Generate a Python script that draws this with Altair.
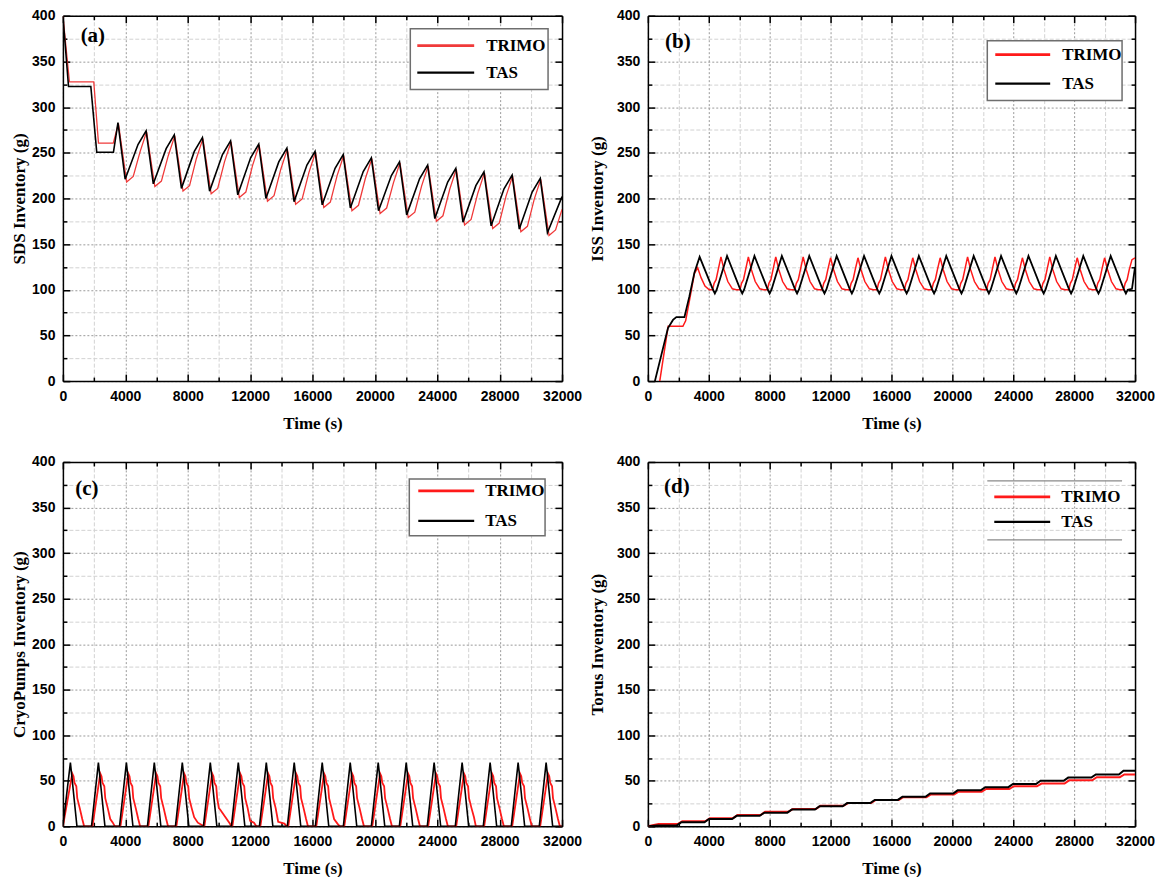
import altair as alt
import pandas as pd

# ---------------- data (time s, inventory g) ----------------
TIME_TICKS = list(range(0, 32001, 2000))
INV_TICKS = list(range(0, 401, 25))
SERIES = ["TRIMO", "TAS"]

SDS_TAS = [
    [0, 400], [360, 322.5], [1790, 322.5], [2170, 250.5], [3240, 250.5], [3530, 283],
    [3990, 221], [4815, 259], [5335, 274],
    [5795, 216], [6620, 254.5], [7140, 269.5],
    [7600, 211], [8425, 251.5], [8945, 266.5],
    [9405, 208], [10230, 248], [10750, 263],
    [11210, 204], [12035, 244.5], [12555, 259.5],
    [13015, 200], [13840, 240], [14360, 255],
    [14820, 196.5], [15645, 236.5], [16165, 251.5],
    [16625, 193], [17450, 233], [17970, 248],
    [18430, 189.5], [19255, 229.5], [19775, 244.5],
    [20235, 186.5], [21060, 225], [21580, 240],
    [22040, 182], [22865, 221.5], [23385, 236.5],
    [23845, 178], [24670, 218], [25190, 233],
    [25650, 174], [26475, 214], [26995, 229],
    [27455, 170], [28280, 210.5], [28800, 225.5],
    [29260, 166.5], [30085, 207], [30605, 222],
    [31065, 162.5], [32000, 202],
]
SDS_TRIMO = [
    [0, 400], [420, 327.5], [1980, 327.5], [2280, 260.5], [3230, 260.5], [3560, 282],
    [4090, 218], [4510, 224], [4945, 251], [5365, 273],
    [5895, 213], [6315, 219], [6750, 246.5], [7170, 268.5],
    [7700, 208], [8120, 214], [8555, 243.5], [8975, 265.5],
    [9505, 205], [9925, 211], [10360, 240], [10780, 262],
    [11310, 201], [11730, 207], [12165, 236.5], [12585, 258.5],
    [13115, 197], [13535, 203], [13970, 232], [14390, 254],
    [14920, 193.5], [15340, 199.5], [15775, 228.5], [16195, 250.5],
    [16725, 190], [17145, 196], [17580, 225], [18000, 247],
    [18530, 186.5], [18950, 192.5], [19385, 221.5], [19805, 243.5],
    [20335, 183.5], [20755, 189.5], [21190, 217], [21610, 239],
    [22140, 179], [22560, 185], [22995, 213.5], [23415, 235.5],
    [23945, 175], [24365, 181], [24800, 210], [25220, 232],
    [25750, 171], [26170, 177], [26605, 206], [27025, 228],
    [27555, 167], [27975, 173], [28410, 202.5], [28830, 224.5],
    [29360, 163.5], [29780, 169.5], [30215, 199], [30635, 221],
    [31165, 159.5], [31585, 165.5], [32000, 188],
]

ISS_TAS = [
    [460, 0], [1320, 58], [1650, 67], [1870, 70], [2400, 70], [2730, 93], [3060, 119], [3400, 136],
    [4280, 100], [4400, 96], [4520, 100], [5200, 137],
    [6080, 100], [6200, 96], [6320, 100], [7000, 137],
    [7880, 100], [8000, 96], [8120, 100], [8800, 137],
    [9680, 100], [9800, 96], [9920, 100], [10600, 137],
    [11480, 100], [11600, 96], [11720, 100], [12400, 137],
    [13280, 100], [13400, 96], [13520, 100], [14200, 137],
    [15080, 100], [15200, 96], [15320, 100], [16000, 137],
    [16880, 100], [17000, 96], [17120, 100], [17800, 137],
    [18680, 100], [18800, 96], [18920, 100], [19600, 137],
    [20480, 100], [20600, 96], [20720, 100], [21400, 137],
    [22280, 100], [22400, 96], [22520, 100], [23200, 137],
    [24080, 100], [24200, 96], [24320, 100], [25000, 137],
    [25880, 100], [26000, 96], [26120, 100], [26800, 137],
    [27680, 100], [27800, 96], [27920, 100], [28600, 137],
    [29480, 100], [29600, 96], [29720, 100], [30400, 137],
    [31280, 100], [31400, 96], [31520, 100], [31800, 101], [32000, 125],
]
ISS_TRIMO = [
    [780, 0], [1330, 60], [2300, 60], [2480, 66], [2730, 88], [3060, 118], [3270, 124],
    [3500, 113], [3750, 104], [4030, 100], [4250, 100], [4350, 107], [4480, 111], [4620, 122], [4800, 136],
    [5000, 122], [5250, 109], [5550, 101], [5800, 100], [6050, 100], [6150, 107], [6280, 111], [6420, 122], [6600, 136],
    [6800, 122], [7050, 109], [7350, 101], [7600, 100], [7850, 100], [7950, 107], [8080, 111], [8220, 122], [8400, 136],
    [8600, 122], [8850, 109], [9150, 101], [9400, 100], [9650, 100], [9750, 107], [9880, 111], [10020, 122], [10200, 136],
    [10400, 122], [10650, 109], [10950, 101], [11200, 100], [11450, 100], [11550, 107], [11680, 111], [11820, 122], [12000, 135],
    [12200, 122], [12450, 109], [12750, 101], [13000, 100], [13250, 100], [13350, 107], [13480, 111], [13620, 122], [13800, 135],
    [14000, 122], [14250, 109], [14550, 101], [14800, 100], [15050, 100], [15150, 107], [15280, 111], [15420, 122], [15600, 136],
    [15800, 122], [16050, 109], [16350, 101], [16600, 100], [16850, 100], [16950, 107], [17080, 111], [17220, 122], [17400, 135],
    [17600, 122], [17850, 109], [18150, 101], [18400, 100], [18650, 100], [18750, 107], [18880, 111], [19020, 122], [19200, 135],
    [19400, 122], [19650, 109], [19950, 101], [20200, 100], [20450, 100], [20550, 107], [20680, 111], [20820, 122], [21000, 136],
    [21200, 122], [21450, 109], [21750, 101], [22000, 100], [22250, 100], [22350, 107], [22480, 111], [22620, 122], [22800, 136],
    [23000, 122], [23250, 109], [23550, 101], [23800, 100], [24050, 100], [24150, 107], [24280, 111], [24420, 122], [24600, 135],
    [24800, 122], [25050, 109], [25350, 101], [25600, 100], [25850, 100], [25950, 107], [26080, 111], [26220, 122], [26400, 136],
    [26600, 122], [26850, 109], [27150, 101], [27400, 100], [27650, 100], [27750, 107], [27880, 111], [28020, 122], [28200, 135],
    [28400, 122], [28650, 109], [28950, 101], [29200, 100], [29450, 100], [29550, 107], [29680, 111], [29820, 122], [30000, 135],
    [30200, 122], [30450, 109], [30750, 101], [31000, 100], [31250, 100], [31350, 107], [31480, 111], [31620, 122], [31800, 133], [32000, 135],
]

CRYO_TAS = [
    [0, 0], [480, 70], [530, 62], [900, 0],
    [1835, 0], [2275, 70], [2325, 62], [2695, 0],
    [3630, 0], [4070, 70], [4120, 62], [4490, 0],
    [5420, 0], [5860, 70], [5910, 62], [6280, 0],
    [7215, 0], [7655, 70], [7705, 62], [8075, 0],
    [9010, 0], [9450, 70], [9500, 62], [9870, 0],
    [10805, 0], [11245, 70], [11295, 62], [11665, 0],
    [12600, 0], [13040, 70], [13090, 62], [13460, 0],
    [14390, 0], [14830, 70], [14880, 62], [15250, 0],
    [16185, 0], [16625, 70], [16675, 62], [17045, 0],
    [17980, 0], [18420, 70], [18470, 62], [18840, 0],
    [19775, 0], [20215, 70], [20265, 62], [20635, 0],
    [21570, 0], [22010, 70], [22060, 62], [22430, 0],
    [23360, 0], [23800, 70], [23850, 62], [24220, 0],
    [25155, 0], [25595, 70], [25645, 62], [26015, 0],
    [26950, 0], [27390, 70], [27440, 62], [27810, 0],
    [28745, 0], [29185, 70], [29235, 62], [29605, 0],
    [30540, 0], [30980, 70], [31030, 62], [31400, 0], [32000, 0],
]
CRYO_TRIMO = [
    [0, 0], [600, 58], [680, 55], [740, 48], [860, 44], [920, 31], [1080, 20], [1240, 8], [1360, 0],
    [1895, 0], [2395, 58], [2475, 55], [2535, 48], [2655, 44], [2715, 31], [2875, 20], [3035, 8], [3200, 4], [3330, 0],
    [3690, 0], [4190, 58], [4270, 55], [4330, 48], [4450, 44], [4510, 31], [4670, 20], [4830, 8], [4950, 0],
    [5480, 0], [5980, 58], [6060, 55], [6120, 48], [6240, 44], [6300, 31], [6460, 20], [6620, 8], [6740, 0],
    [7275, 0], [7775, 58], [7855, 55], [7915, 48], [8035, 44], [8095, 31], [8255, 20], [8415, 10], [8650, 4], [9050, 0],
    [9070, 0], [9570, 58], [9650, 55], [9710, 48], [9830, 44], [9890, 31], [10000, 20], [10100, 18], [10700, 3], [10800, 0],
    [10865, 0], [11365, 58], [11445, 55], [11505, 48], [11625, 44], [11685, 31], [11845, 20], [12005, 6], [12250, 4], [12400, 0],
    [12660, 0], [13160, 58], [13240, 55], [13300, 48], [13420, 44], [13480, 31], [13640, 20], [13800, 5], [14200, 3], [14350, 0],
    [14450, 0], [14950, 58], [15030, 55], [15090, 48], [15210, 44], [15270, 31], [15430, 20], [15590, 8], [15710, 0],
    [16245, 0], [16745, 58], [16825, 55], [16885, 48], [17005, 44], [17065, 31], [17225, 20], [17385, 8], [17600, 3], [17750, 0],
    [18040, 0], [18540, 58], [18620, 55], [18680, 48], [18800, 44], [18860, 31], [19020, 20], [19180, 8], [19300, 0],
    [19835, 0], [20335, 58], [20415, 55], [20475, 48], [20595, 44], [20655, 31], [20815, 20], [20975, 8], [21095, 0],
    [21630, 0], [22130, 58], [22210, 55], [22270, 48], [22390, 44], [22450, 31], [22610, 20], [22770, 8], [22890, 0],
    [23420, 0], [23920, 58], [24000, 55], [24060, 48], [24180, 44], [24240, 31], [24400, 20], [24560, 8], [24680, 0],
    [25215, 0], [25715, 58], [25795, 55], [25855, 48], [25975, 44], [26035, 31], [26195, 20], [26355, 10], [26475, 0],
    [27010, 0], [27510, 58], [27590, 55], [27650, 48], [27770, 44], [27830, 31], [27990, 20], [28150, 8], [28270, 0],
    [28805, 0], [29305, 58], [29385, 55], [29445, 48], [29565, 44], [29625, 31], [29785, 20], [29945, 8], [30065, 0],
    [30600, 0], [31100, 58], [31180, 55], [31240, 48], [31360, 44], [31420, 31], [31580, 20], [31740, 8], [31860, 0], [32000, 0],
]

TORUS_TAS = [
    [0, 0], [600, 1], [1900, 1], [2200, 4.5], [3715, 4.5], [4015, 8], [5530, 8], [5830, 11.5],
    [7345, 11.5], [7645, 15], [9160, 15], [9460, 18.5], [10975, 18.5], [11275, 22], [12790, 22],
    [13090, 25.5], [14605, 25.5], [14905, 29], [16420, 29], [16720, 32.5], [18235, 32.5], [18535, 36],
    [20050, 36], [20350, 39.5], [21865, 39.5], [22165, 43], [23680, 43], [23980, 46.5], [25495, 46.5],
    [25795, 50], [27310, 50], [27610, 53.5], [29125, 53.5], [29425, 57], [30940, 57], [31240, 61], [32000, 61],
]
TORUS_TRIMO = [
    [0, 0], [700, 2.5], [1960, 2.5], [2260, 5.5], [3775, 5.5], [4075, 9], [5590, 9], [5890, 12.5],
    [7405, 12.5], [7705, 16], [9220, 16], [9520, 19], [11035, 19], [11335, 22.5], [12850, 22.5],
    [13150, 25.5], [14665, 25.5], [14965, 29], [16480, 29], [16780, 32], [18295, 32], [18595, 35],
    [20110, 35], [20410, 38], [21925, 38], [22225, 41], [23740, 41], [24040, 44], [25555, 44],
    [25855, 47], [27370, 47], [27670, 50.5], [29185, 50.5], [29485, 54], [31000, 54], [31300, 57], [32000, 57],
]

RED = "#ff1a1a"
BLACK = "#000000"
SANS = "Liberation Sans"
SERIF = "Liberation Serif"


def to_df(pairs, name):
    return pd.DataFrame({"t": [p[0] for p in pairs], "v": [p[1] for p in pairs],
                         "series": name, "i": list(range(len(pairs)))})


XS = alt.Scale(domain=[0, 32000], nice=False, zero=False)
YS = alt.Scale(domain=[0, 400], nice=False, zero=False)

common = dict(domainColor="black", domainWidth=1.5, tickColor="black", tickWidth=1.5,
              labelFont=SANS, labelFontWeight="bold", labelFontSize=14, labelColor="black",
              titleFont=SERIF, titleFontWeight="bold", titleFontSize=17, titleColor="black")


def x_bottom(title):
    return alt.Axis(values=TIME_TICKS, format="d", title=title,
                    labelExpr="datum.value % 4000 === 0 ? datum.label : ''",
                    labelFlush=False, labelOverlap=False, labelPadding=15, titlePadding=9,
                    tickSize={"expr": "datum.value % 4000 === 0 ? -7 : -4"},
                    grid=True, gridWidth=1,
                    gridColor={"condition": {"test": "datum.value % 4000 === 0", "value": "#9a9a9a"}, "value": "#d2d2d2"},
                    gridDash={"condition": {"test": "datum.value % 4000 === 0", "value": [2, 2]}, "value": [4, 2]},
                    **common)


def y_left(title, tpad):
    return alt.Axis(values=INV_TICKS, format="d", title=title,
                    labelExpr="datum.value % 50 === 0 ? datum.label : ''",
                    labelFlush=False, labelOverlap=False, labelPadding=15, titlePadding=tpad,
                    tickSize={"expr": "datum.value % 50 === 0 ? -7 : -4"},
                    grid=True, gridWidth=1,
                    gridColor={"condition": {"test": "datum.value % 50 === 0", "value": "#9a9a9a"}, "value": "#d2d2d2"},
                    gridDash={"condition": {"test": "datum.value % 50 === 0", "value": [2, 2]}, "value": [4, 2]},
                    **common)


def x_top():
    return alt.Axis(orient="top", values=TIME_TICKS, labels=False, title=None, grid=False,
                    tickSize={"expr": "datum.value % 4000 === 0 ? -7 : -4"},
                    domainColor="black", domainWidth=1.5, tickColor="black", tickWidth=1.5)


def y_right():
    return alt.Axis(orient="right", values=INV_TICKS, labels=False, title=None, grid=False,
                    tickSize={"expr": "datum.value % 50 === 0 ? -7 : -4"},
                    domainColor="black", domainWidth=1.5, tickColor="black", tickWidth=1.5)


ONE = pd.DataFrame({"k": [0]})


def panel(trimo, tas, ytitle, xtitle, tag, w, h, tpad, lw_red, lw_black, red, leg):
    dr = to_df(trimo, SERIES[0])
    db = to_df(tas, SERIES[1])
    enc = dict(x=alt.X("t:Q", scale=XS, axis=x_bottom(xtitle)),
               y=alt.Y("v:Q", scale=YS, axis=y_left(ytitle, tpad)),
               order="i:Q")
    red_line = alt.Chart(dr).mark_line(color=red, strokeWidth=lw_red, clip=True).encode(**enc)
    blk_line = alt.Chart(db).mark_line(color=BLACK, strokeWidth=lw_black, clip=True).encode(**enc)
    data_layer = alt.layer(red_line, blk_line)
    mirror = alt.Chart(db).mark_line(opacity=0).encode(
        x=alt.X("t:Q", scale=XS, axis=x_top()),
        y=alt.Y("v:Q", scale=YS, axis=y_right()))

    layers = [data_layer, mirror]
    # panel tag
    layers.append(alt.Chart(ONE).mark_text(text=tag, font=SERIF, fontWeight="bold", fontSize=21,
                                           align="center", baseline="middle", color="black")
                  .encode(x=alt.value(leg["tag"][0]), y=alt.value(leg["tag"][1])))
    # legend frame
    bx0, bx1, by0, by1 = leg["box"]
    if leg["style"] == "box":
        layers.append(alt.Chart(ONE).mark_rect(fill="white", stroke="#6e6e6e", strokeWidth=1.5)
                      .encode(x=alt.value(bx0), x2=alt.value(bx1), y=alt.value(by0), y2=alt.value(by1)))
    else:
        for yy in (by0, by1):
            layers.append(alt.Chart(ONE).mark_rule(color="#8a8a8a", strokeWidth=1.2)
                          .encode(x=alt.value(bx0), x2=alt.value(bx1), y=alt.value(yy)))
    lx0, lx1, tx = leg["lines"]
    for name, col, yy, sw in ((SERIES[0], red, leg["ys"][0], 2.8), (SERIES[1], BLACK, leg["ys"][1], 2.2)):
        layers.append(alt.Chart(ONE).mark_rule(color=col, strokeWidth=sw)
                      .encode(x=alt.value(lx0), x2=alt.value(lx1), y=alt.value(yy)))
        layers.append(alt.Chart(ONE).mark_text(text=name, font=SERIF, fontWeight="bold", fontSize=17,
                                               align="left", baseline="middle", color="black")
                      .encode(x=alt.value(tx), y=alt.value(yy)))
    return alt.layer(*layers).resolve_scale(x="independent", y="independent").properties(width=w, height=h)


pa = panel(SDS_TRIMO, SDS_TAS, "SDS Inventory (g)", "Time (s)", "(a)", 500, 366, 3, 1.3, 1.6, "#f03a3a",
           {"tag": (30, 20), "box": (348, 486, 13, 74), "style": "box",
            "lines": (355, 412, 424), "ys": (30, 57)})
pb = panel(ISS_TRIMO, ISS_TAS, "ISS Inventory (g)", "Time (s)", "(b)", 488, 366, 10, 1.5, 1.8, RED,
           {"tag": (30, 26), "box": (340, 475, 25, 85), "style": "box",
            "lines": (348, 403, 415), "ys": (39, 68)})
pc = panel(CRYO_TRIMO, CRYO_TAS, "CryoPumps Inventory (g)", "Time (s)", "(c)", 500, 365, 3, 1.8, 1.6, RED,
           {"tag": (24, 27), "box": (347, 483, 17, 74), "style": "box",
            "lines": (356, 412, 423), "ys": (29, 59)})
pd_ = panel(TORUS_TRIMO, TORUS_TAS, "Torus Inventory (g)", "Time (s)", "(d)", 488, 365, 10, 2.0, 2.0, RED,
            {"tag": (29, 25), "box": (340, 475, 19, 78), "style": "lines",
             "lines": (347, 403, 414), "ys": (35, 60)})

chart = alt.vconcat(
    alt.hconcat(pa, pb, spacing=6),
    alt.hconcat(pc, pd_, spacing=6),
    spacing=24,
).properties(padding={"left": 2, "top": 0, "right": 0, "bottom": 0}, background="white"
).configure_view(stroke=None)

chart.save("out.html", embed_options={"renderer": "svg", "actions": False})
